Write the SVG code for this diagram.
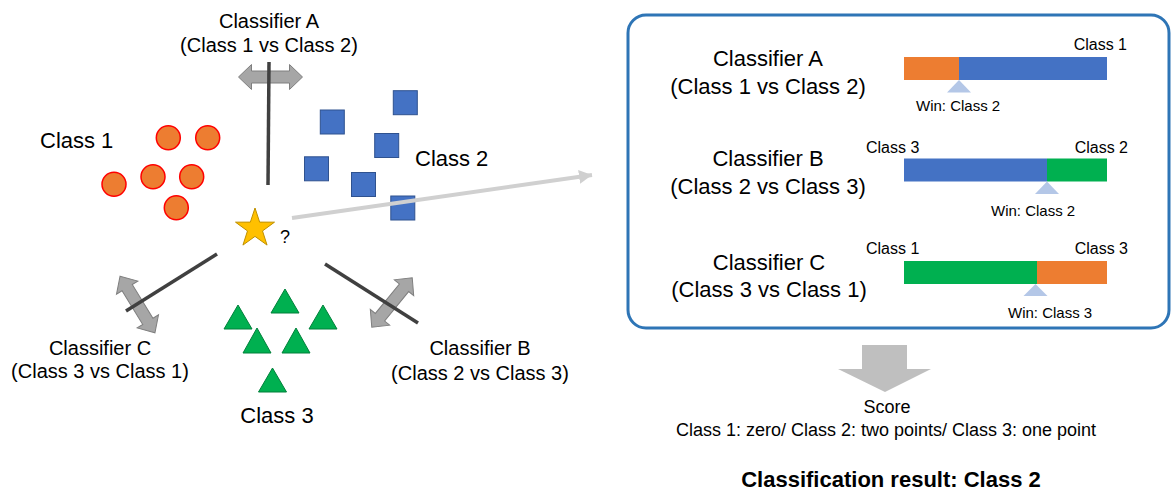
<svg xmlns="http://www.w3.org/2000/svg" width="1172" height="498" viewBox="0 0 1172 498">
  <style>
    text { font-family: "Liberation Sans", Arial, sans-serif; fill: #000; }
    .lbl20 { font-size: 20px; }
    .lbl22 { font-size: 22px; }
    .small { font-size: 16px; }
    .win { font-size: 15px; }
    .score { font-size: 18px; }
    .result { font-size: 22px; font-weight: bold; }
    .mid { text-anchor: middle; }
    .end { text-anchor: end; }
    .c1 { fill: #ed7d31; stroke: #ff0000; stroke-width: 1.5; }
    .c2 { fill: #4472c4; stroke: #2f528f; stroke-width: 1; }
    .c3 { fill: #00b050; stroke: #00803a; stroke-width: 1; }
    .boundary { stroke: #404040; stroke-width: 3.5; fill: none; stroke-linecap: butt; }
    .dbl { fill: #a6a6a6; stroke: #7f7f7f; stroke-width: 1; }
    .orange { fill: #ed7d31; }
    .blue { fill: #4472c4; }
    .green { fill: #00b050; }
    .ptr { fill: #b4c7e7; }
  </style>
  <defs>
    <!-- double-headed arrow showing the margin direction of a classifier -->
    <path id="dblArrow" d="M-32,0 L-19,-12.5 L-19,-6 L19,-6 L19,-12.5 L32,0 L19,12.5 L19,6 L-19,6 L-19,12.5 Z"/>
    <marker id="head" markerUnits="userSpaceOnUse" markerWidth="14" markerHeight="16" refX="13" refY="7" orient="auto">
      <path d="M0,0 L13,7 L0,14 Z" fill="#d0d0d0"/>
    </marker>
  </defs>

  <rect width="1172" height="498" fill="#ffffff"/>

  <!-- class 1 samples -->
  <g id="class1">
    <circle class="c1" cx="168.3" cy="137.7" r="12"/>
    <circle class="c1" cx="207.7" cy="137.7" r="12"/>
    <circle class="c1" cx="114" cy="184.3" r="12"/>
    <circle class="c1" cx="153" cy="176.7" r="12"/>
    <circle class="c1" cx="191.7" cy="176.7" r="12"/>
    <circle class="c1" cx="176.3" cy="207.7" r="12"/>
    <text class="lbl22" x="40" y="148">Class 1</text>
  </g>

  <!-- class 2 samples -->
  <g id="class2">
    <rect class="c2" x="393.3" y="90.7" width="24" height="24"/>
    <rect class="c2" x="320.3" y="110" width="24" height="24"/>
    <rect class="c2" x="374.7" y="133.5" width="24" height="24"/>
    <rect class="c2" x="304.5" y="156.8" width="24" height="24"/>
    <rect class="c2" x="351.5" y="172.5" width="24" height="24"/>
    <rect class="c2" x="390.8" y="196" width="24" height="24"/>
    <text class="lbl22" x="415" y="166">Class 2</text>
  </g>

  <!-- class 3 samples -->
  <g id="class3">
    <polygon class="c3" points="285,289 271,313 299,313"/>
    <polygon class="c3" points="238,305 224,329 252,329"/>
    <polygon class="c3" points="323,305 309,329 337,329"/>
    <polygon class="c3" points="257,328 243,353 271,353"/>
    <polygon class="c3" points="296,328 282,353 310,353"/>
    <polygon class="c3" points="272.5,368 258.5,392 286.5,392"/>
    <text class="lbl22 mid" x="277" y="423">Class 3</text>
  </g>

  <!-- unknown sample -->
  <g id="query">
    <polygon points="255,208 259.64,222.11 274.5,222.17 262.51,230.94 267.05,245.08 255,236.4 242.95,245.08 247.49,230.94 235.5,222.17 250.36,222.11" fill="#ffc000" stroke="#bf9000" stroke-width="1"/>
    <text x="280" y="243" style="font-size:18px">?</text>
  </g>

  <!-- classifier A: class 1 vs class 2 -->
  <g id="classifierA">
    <use href="#dblArrow" class="dbl" transform="translate(270.5,77)"/>
    <line class="boundary" x1="269" y1="62" x2="268" y2="185"/>
    <text class="lbl20 mid" x="269" y="28">Classifier A</text>
    <text class="lbl20 mid" x="269" y="52">(Class 1 vs Class 2)</text>
  </g>

  <!-- classifier B: class 2 vs class 3 -->
  <g id="classifierB">
    <use href="#dblArrow" class="dbl" transform="translate(392,302.5) rotate(-50.8)"/>
    <line class="boundary" x1="325" y1="264" x2="418" y2="323"/>
    <text class="lbl20 mid" x="480" y="355">Classifier B</text>
    <text class="lbl20 mid" x="480" y="380">(Class 2 vs Class 3)</text>
  </g>

  <!-- classifier C: class 3 vs class 1 -->
  <g id="classifierC">
    <use href="#dblArrow" class="dbl" transform="translate(137.5,304.5) rotate(58.4) scale(1.04,1)"/>
    <line class="boundary" x1="217" y1="254" x2="126" y2="311"/>
    <text class="lbl20 mid" x="100" y="355">Classifier C</text>
    <text class="lbl20 mid" x="100" y="378">(Class 3 vs Class 1)</text>
  </g>

  <!-- vote panel -->
  <g id="votes">
    <rect x="628" y="15" width="541" height="313" rx="18" ry="18" fill="#ffffff" stroke="#2e75b6" stroke-width="3"/>

    <g id="voteA">
      <text class="lbl22 mid" x="768" y="66">Classifier A</text>
      <text class="lbl22 mid" x="768" y="94">(Class 1 vs Class 2)</text>
      <rect class="orange" x="904" y="57" width="55" height="23"/>
      <rect class="blue" x="959" y="57" width="148" height="23"/>
      <text class="small end" x="1127" y="50">Class 1</text>
      <polygon class="ptr" points="959,80 971,92.5 947,92.5"/>
      <text class="win" x="916" y="111">Win: Class 2</text>
    </g>

    <g id="voteB">
      <text class="lbl22 mid" x="768" y="166">Classifier B</text>
      <text class="lbl22 mid" x="768" y="194">(Class 2 vs Class 3)</text>
      <rect class="blue" x="904" y="158.5" width="143" height="23"/>
      <rect class="green" x="1047" y="158.5" width="60" height="23"/>
      <text class="small" x="866" y="152.5">Class 3</text>
      <text class="small end" x="1128" y="152.5">Class 2</text>
      <polygon class="ptr" points="1047,181.5 1059,194 1035,194"/>
      <text class="win" x="991" y="216">Win: Class 2</text>
    </g>

    <g id="voteC">
      <text class="lbl22 mid" x="769" y="270">Classifier C</text>
      <text class="lbl22 mid" x="769" y="297">(Class 3 vs Class 1)</text>
      <rect class="green" x="904" y="261" width="133" height="23"/>
      <rect class="orange" x="1037" y="261" width="70" height="23"/>
      <text class="small" x="866" y="254">Class 1</text>
      <text class="small end" x="1128" y="254">Class 3</text>
      <polygon class="ptr" points="1035.5,284 1047.5,296 1023.5,296"/>
      <text class="win" x="1008" y="318">Win: Class 3</text>
    </g>
  </g>

  <!-- score and final decision -->
  <g id="score">
    <text class="score mid" x="887" y="413">Score</text>
    <text class="score mid" x="886" y="436">Class 1: zero/ Class 2: two points/ Class 3: one point</text>
  </g>
  <g id="result">
    <text class="result mid" x="891" y="487">Classification result: Class 2</text>
  </g>

  <!-- connectors -->
  <g id="connectors">
    <line x1="292" y1="218" x2="592" y2="175" stroke="#d0d0d0" stroke-width="4" marker-end="url(#head)"/>
    <polygon points="862,345 907,345 907,369 931,369 885,392 838,369 862,369" fill="#bfbfbf"/>
  </g>
</svg>
